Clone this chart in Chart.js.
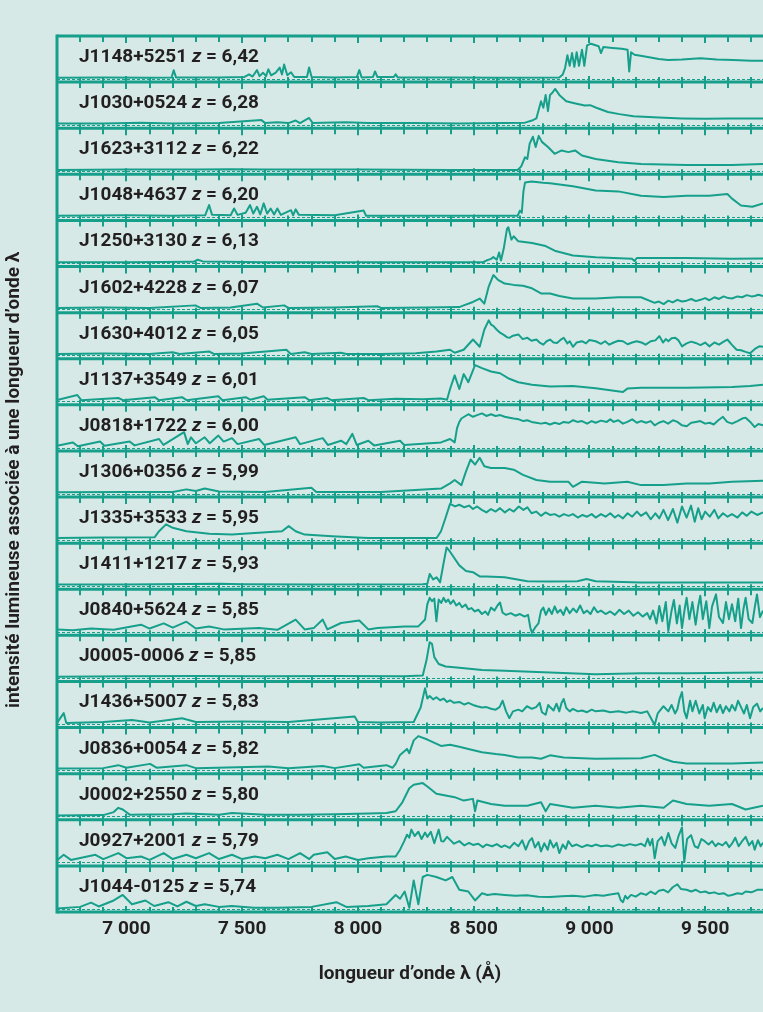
<!DOCTYPE html>
<html>
<head>
<meta charset="utf-8">
<script src="https://cdn.jsdelivr.net/npm/chart.js@4/dist/chart.umd.min.js"></script>
<style>
    html, body { margin: 0; padding: 0; background: #d6e9e7; }
    canvas { display: block; }
</style>
</head>
<body>
<canvas id="spectraChart" width="763" height="1012"></canvas>
<script>
// quasars, top to bottom
const quasars = ['J1148+5251', 'J1030+0524', 'J1623+3112', 'J1048+4637', 'J1250+3130', 'J1602+4228', 'J1630+4012',
    'J1137+3549', 'J0818+1722', 'J1306+0356', 'J1335+3533', 'J1411+1217', 'J0840+5624', 'J0005-0006',
    'J1436+5007', 'J0836+0054', 'J0002+2550', 'J0927+2001', 'J1044-0125']
const redshifts = ['6,42', '6,28', '6,22', '6,20', '6,13', '6,07', '6,05', '6,01', '6,00', '5,99', '5,95', '5,93',
    '5,85', '5,85', '5,83', '5,82', '5,80', '5,79', '5,74']

// [longueur d'onde (Å), flux relatif]
const fluxJ1148 = [[6700,.02],[6900,.03],[7100,.02],[7195,.03],[7204,.2],[7214,.03],[7400,.03],[7510,.04],[7530,.1],[7545,.05],[7564,.2],[7575,.06],[7590,.14],[7603,.06],[7613,.22],[7625,.08],[7645,.14],[7662,.26],[7672,.1],[7681,.33],[7695,.08],[7711,.15],[7725,.04],[7780,.04],[7789,.26],[7800,.04],[7900,.03],[7995,.04],[8006,.2],[8016,.03],[8065,.04],[8074,.17],[8084,.04],[8155,.04],[8163,.1],[8172,.03],[8400,.03],[8600,.02],[8870,.03],[8885,.1],[8895,.25],[8905,.55],[8915,.3],[8925,.6],[8935,.28],[8945,.62],[8955,.3],[8968,.68],[8978,.3],[8990,.78],[9007,.82],[9040,.76],[9050,.6],[9060,.74],[9100,.72],[9140,.7],[9165,.68],[9172,.17],[9180,.62],[9195,.56],[9240,.52],[9300,.46],[9340,.44],[9400,.45],[9480,.48],[9550,.45],[9620,.44],[9700,.42],[9750,.42]]
const fluxJ1030 = [[6700,.03],[6900,.03],[7063,.05],[7200,.03],[7400,.04],[7583,.11],[7600,.04],[7652,.06],[7700,.04],[7731,.1],[7750,.04],[7789,.16],[7805,.04],[7848,.05],[7947,.06],[8045,.04],[8241,.04],[8438,.03],[8634,.04],[8722,.05],[8752,.1],[8771,.15],[8781,.35],[8791,.55],[8801,.4],[8811,.7],[8821,.32],[8830,.7],[8840,.75],[8852,.84],[8870,.7],[8900,.55],[8940,.5],[8980,.45],[9003,.46],[9030,.4],[9080,.3],[9130,.25],[9190,.2],[9300,.17],[9400,.15],[9500,.14],[9600,.15],[9750,.15]]
const fluxJ1623 = [[6700,.02],[7000,.03],[7300,.03],[7450,.04],[7600,.03],[8000,.03],[8400,.02],[8690,.02],[8705,.1],[8722,.32],[8732,.28],[8742,.64],[8756,.8],[8768,.56],[8781,.82],[8795,.68],[8821,.56],[8850,.4],[8880,.48],[8909,.44],[8938,.48],[8968,.36],[9027,.28],[9125,.2],[9223,.16],[9420,.14],[9616,.14],[9750,.16]]
const fluxJ1048 = [[6700,.03],[7000,.04],[7200,.03],[7340,.04],[7357,.28],[7370,.05],[7450,.04],[7465,.2],[7480,.05],[7515,.1],[7534,.28],[7548,.08],[7564,.24],[7578,.06],[7593,.32],[7608,.08],[7623,.2],[7638,.06],[7652,.2],[7667,.05],[7711,.16],[7720,.04],[7731,.18],[7745,.05],[7900,.04],[8025,.15],[8035,.03],[8300,.03],[8690,.03],[8700,.15],[8708,.1],[8715,.6],[8722,.81],[8750,.83],[8800,.8],[8830,.79],[8929,.72],[9027,.62],[9125,.6],[9223,.5],[9321,.47],[9420,.5],[9518,.5],[9596,.54],[9616,.43],[9655,.27],[9704,.24],[9750,.32]]
const fluxJ1250 = [[6700,.02],[7000,.02],[7290,.03],[7308,.08],[7330,.04],[7600,.02],[8000,.02],[8300,.02],[8540,.02],[8555,.06],[8575,.1],[8585,.14],[8600,.08],[8610,.25],[8618,.06],[8630,.34],[8644,.8],[8650,.84],[8663,.55],[8673,.63],[8693,.51],[8752,.47],[8811,.4],[8850,.29],[8929,.18],[9027,.14],[9184,.1],[9195,.05],[9205,.12],[9420,.12],[9616,.1],[9750,.11]]
const fluxJ1602 = [[6700,.03],[6900,.04],[7100,.03],[7298,.09],[7320,.03],[7450,.04],[7564,.13],[7590,.04],[7681,.09],[7700,.03],[7900,.04],[8084,.07],[8100,.03],[8300,.04],[8438,.05],[8457,.09],[8497,.17],[8526,.25],[8546,.13],[8565,.53],[8585,.8],[8605,.69],[8634,.6],[8673,.57],[8713,.55],[8752,.49],[8791,.37],[8830,.37],[8870,.31],[8929,.25],[9027,.25],[9125,.28],[9223,.28],[9282,.15],[9300,.18],[9321,.12],[9340,.2],[9360,.16],[9380,.22],[9400,.18],[9420,.2],[9440,.24],[9460,.19],[9480,.22],[9500,.26],[9518,.21],[9540,.28],[9560,.24],[9580,.3],[9600,.26],[9616,.25],[9640,.3],[9660,.28],[9680,.33],[9700,.3],[9714,.31],[9730,.34],[9750,.31]]
const fluxJ1630 = [[6700,.03],[6900,.04],[7100,.03],[7200,.07],[7230,.03],[7357,.09],[7380,.03],[7500,.04],[7691,.13],[7710,.03],[7770,.07],[7800,.03],[7927,.06],[7950,.03],[8100,.03],[8250,.05],[8339,.09],[8398,.13],[8418,.06],[8457,.13],[8497,.37],[8526,.2],[8546,.6],[8565,.82],[8575,.72],[8585,.69],[8600,.6],[8614,.53],[8630,.48],[8645,.42],[8654,.41],[8670,.46],[8693,.49],[8712,.38],[8732,.41],[8750,.34],[8771,.37],[8785,.3],[8801,.25],[8815,.33],[8830,.37],[8845,.3],[8860,.29],[8875,.36],[8889,.41],[8905,.28],[8915,.33],[8929,.2],[8945,.3],[8968,.33],[8985,.28],[9000,.36],[9027,.33],[9050,.27],[9068,.33],[9086,.25],[9105,.3],[9125,.34],[9145,.33],[9165,.26],[9185,.3],[9204,.33],[9225,.3],[9243,.25],[9265,.33],[9285,.35],[9302,.45],[9318,.3],[9330,.38],[9341,.33],[9355,.4],[9371,.41],[9385,.35],[9400,.21],[9420,.28],[9440,.32],[9459,.29],[9480,.24],[9500,.3],[9518,.21],[9540,.3],[9560,.25],[9580,.32],[9596,.37],[9615,.25],[9636,.13],[9655,.12],[9675,.08],[9694,.05],[9715,.15],[9734,.21],[9750,.2]]
const fluxJ1137 = [[6700,.03],[6788,.15],[6805,.03],[6965,.08],[6985,.03],[7122,.1],[7140,.03],[7240,.1],[7260,.03],[7397,.12],[7415,.03],[7515,.1],[7535,.04],[7593,.12],[7610,.04],[7770,.1],[7790,.03],[7868,.08],[7885,.03],[8025,.08],[8045,.03],[8163,.06],[8280,.05],[8359,.07],[8385,.04],[8398,.29],[8418,.61],[8438,.29],[8457,.64],[8477,.45],[8506,.85],[8536,.78],[8575,.7],[8614,.66],[8654,.53],[8693,.45],[8752,.39],[8830,.35],[8929,.36],[9027,.31],[9145,.22],[9164,.3],[9223,.32],[9420,.32],[9616,.34],[9694,.36],[9750,.39]]
const fluxJ0818 = [[6700,.04],[6768,.12],[6790,.03],[6886,.14],[6905,.04],[7014,.14],[7035,.05],[7141,.2],[7160,.06],[7249,.36],[7265,.08],[7279,.24],[7300,.1],[7338,.24],[7360,.1],[7397,.28],[7420,.14],[7456,.22],[7480,.08],[7573,.2],[7595,.06],[7731,.24],[7750,.08],[7848,.22],[7870,.06],[7927,.16],[7950,.08],[7976,.32],[7995,.06],[8045,.16],[8070,.05],[8182,.16],[8200,.06],[8359,.12],[8398,.2],[8418,.12],[8428,.45],[8438,.6],[8447,.68],[8477,.78],[8497,.72],[8515,.76],[8536,.8],[8555,.74],[8575,.78],[8595,.74],[8615,.76],[8634,.72],[8655,.7],[8673,.68],[8695,.66],[8715,.62],[8732,.64],[8750,.6],[8770,.58],[8791,.56],[8810,.58],[8830,.54],[8850,.58],[8870,.55],[8889,.6],[8910,.58],[8930,.64],[8948,.6],[8968,.62],[8990,.56],[9010,.62],[9027,.58],[9050,.63],[9075,.6],[9090,.66],[9105,.6],[9125,.64],[9145,.56],[9164,.6],[9185,.66],[9205,.58],[9223,.62],[9245,.58],[9265,.62],[9282,.52],[9300,.58],[9320,.62],[9340,.56],[9361,.64],[9380,.6],[9400,.52],[9420,.5],[9440,.58],[9460,.6],[9479,.62],[9500,.56],[9520,.58],[9537,.54],[9557,.64],[9577,.72],[9595,.6],[9616,.56],[9640,.62],[9660,.68],[9675,.7],[9695,.6],[9714,.48],[9730,.55],[9750,.52]]
const fluxJ1306 = [[6700,.03],[7000,.04],[7200,.04],[7259,.1],[7300,.06],[7338,.12],[7400,.05],[7600,.04],[7799,.14],[7820,.04],[8100,.04],[8359,.12],[8398,.24],[8418,.32],[8447,.2],[8467,.52],[8487,.8],[8506,.68],[8526,.84],[8546,.64],[8575,.6],[8634,.6],[8673,.56],[8713,.44],[8771,.32],[8830,.28],[8909,.28],[8929,.16],[8968,.28],[9066,.24],[9164,.28],[9223,.2],[9321,.2],[9420,.24],[9518,.24],[9616,.28],[9750,.3]]
const fluxJ1335 = [[6700,.04],[6900,.05],[7122,.06],[7141,.2],[7171,.36],[7200,.28],[7259,.2],[7357,.14],[7456,.12],[7554,.16],[7672,.2],[7701,.32],[7731,.2],[7770,.12],[7888,.08],[8045,.04],[8340,.04],[8359,.2],[8379,.52],[8398,.84],[8420,.78],[8438,.82],[8460,.76],[8480,.8],[8497,.72],[8515,.78],[8535,.7],[8555,.64],[8575,.72],[8595,.66],[8614,.74],[8635,.64],[8655,.72],[8673,.66],[8695,.78],[8715,.7],[8732,.76],[8750,.62],[8770,.66],[8791,.56],[8810,.64],[8830,.58],[8850,.6],[8870,.54],[8890,.6],[8910,.56],[8929,.6],[8950,.52],[8970,.58],[8990,.54],[9010,.6],[9027,.52],[9050,.6],[9070,.54],[9090,.62],[9110,.52],[9125,.58],[9145,.5],[9165,.62],[9185,.54],[9205,.66],[9223,.56],[9245,.64],[9265,.48],[9285,.62],[9302,.5],[9320,.7],[9340,.46],[9361,.72],[9380,.4],[9400,.78],[9420,.52],[9439,.8],[9455,.42],[9470,.74],[9485,.48],[9500,.66],[9520,.54],[9540,.7],[9557,.5],[9577,.62],[9597,.54],[9616,.6],[9640,.52],[9660,.64],[9680,.56],[9700,.66],[9725,.58],[9750,.64]]
const fluxJ1411 = [[6700,.03],[7000,.03],[7400,.05],[7500,.04],[7800,.03],[8280,.04],[8300,.05],[8310,.28],[8325,.15],[8340,.2],[8355,.08],[8369,.5],[8383,.9],[8398,.8],[8438,.48],[8467,.35],[8497,.32],[8526,.22],[8555,.22],[8634,.2],[8732,.11],[8830,.1],[8948,.11],[8988,.16],[9027,.11],[9223,.08],[9420,.08],[9750,.08]]
const fluxJ0840 = [[6700,.06],[6768,.04],[6847,.08],[6945,.05],[7063,.17],[7100,.08],[7161,.2],[7200,.1],[7259,.24],[7300,.08],[7357,.13],[7420,.06],[7573,.09],[7652,.05],[7731,.29],[7770,.06],[7809,.09],[7848,.29],[7868,.06],[7927,.21],[8006,.27],[8045,.06],[8084,.09],[8202,.13],[8261,.13],[8290,.29],[8300,.65],[8310,.8],[8320,.72],[8330,.78],[8339,.25],[8349,.76],[8360,.68],[8370,.8],[8380,.7],[8390,.76],[8400,.66],[8412,.74],[8425,.62],[8438,.68],[8450,.58],[8465,.64],[8477,.53],[8490,.56],[8505,.48],[8520,.52],[8536,.42],[8550,.48],[8562,.4],[8575,.57],[8590,.5],[8603,.62],[8614,.69],[8625,.45],[8640,.4],[8660,.44],[8680,.38],[8700,.42],[8720,.36],[8735,.4],[8745,.1],[8752,-.02],[8765,.1],[8780,.2],[8791,.5],[8801,.57],[8812,.4],[8825,.55],[8838,.42],[8850,.6],[8862,.45],[8875,.52],[8888,.4],[8900,.58],[8915,.44],[8930,.55],[8945,.46],[8960,.62],[8975,.44],[8990,.5],[9005,.42],[9020,.58],[9035,.46],[9050,.5],[9070,.42],[9090,.48],[9110,.4],[9130,.52],[9150,.42],[9170,.5],[9190,.38],[9210,.46],[9230,.36],[9250,.44],[9262,.3],[9275,.5],[9290,.2],[9302,.61],[9315,.25],[9330,.7],[9341,.02],[9355,.5],[9365,.75],[9378,.2],[9390,.62],[9400,.09],[9412,.55],[9420,.8],[9432,.3],[9445,.7],[9459,.17],[9470,.6],[9479,.85],[9490,.3],[9505,.72],[9518,.09],[9530,.6],[9547,.88],[9560,.35],[9577,.21],[9590,.7],[9603,.3],[9616,.65],[9630,.25],[9643,.78],[9655,.09],[9666,.55],[9675,.8],[9688,.3],[9704,.21],[9715,.6],[9724,.88],[9737,.35],[9750,.5]]
const fluxJ0005 = [[6700,.03],[7000,.04],[7300,.05],[7600,.04],[7900,.05],[8200,.04],[8280,.06],[8296,.41],[8310,.84],[8320,.8],[8330,.49],[8349,.33],[8379,.27],[8438,.24],[8536,.19],[8634,.17],[8830,.13],[9027,.09],[9223,.11],[9420,.11],[9750,.13]]
const fluxJ1436 = [[6700,.03],[6729,.26],[6740,.03],[6900,.05],[7024,.1],[7100,.04],[7240,.14],[7300,.05],[7500,.06],[7700,.05],[7986,.18],[8000,.05],[8100,.04],[8241,.05],[8271,.39],[8290,.84],[8300,.6],[8310,.66],[8325,.58],[8339,.63],[8355,.56],[8370,.6],[8385,.52],[8398,.56],[8415,.5],[8438,.52],[8460,.46],[8477,.5],[8497,.45],[8515,.42],[8536,.39],[8555,.4],[8575,.36],[8595,.34],[8612,.4],[8625,.55],[8640,.3],[8654,.14],[8670,.3],[8693,.34],[8710,.3],[8730,.42],[8752,.36],[8770,.4],[8785,.5],[8795,.28],[8811,.22],[8822,.45],[8830,.4],[8845,.32],[8858,.48],[8870,.3],[8880,.5],[8889,.59],[8900,.38],[8915,.3],[8929,.36],[8950,.3],[8968,.32],[8990,.28],[9010,.34],[9027,.3],[9060,.32],[9090,.28],[9125,.3],[9160,.27],[9190,.3],[9223,.26],[9250,.3],[9265,.15],[9282,-.02],[9295,.25],[9302,.3],[9320,.42],[9341,.3],[9355,.45],[9370,.25],[9380,.35],[9390,.6],[9400,.75],[9410,.3],[9420,.14],[9435,.55],[9445,.3],[9459,.55],[9475,.25],[9490,.45],[9498,.14],[9512,.4],[9525,.3],[9537,.5],[9550,.28],[9565,.45],[9577,.26],[9590,.42],[9605,.3],[9616,.45],[9630,.32],[9642,.55],[9655,.4],[9668,.25],[9680,.45],[9694,.14],[9708,.4],[9724,.48],[9738,.3],[9750,.38]]
const fluxJ0836 = [[6700,.04],[6900,.05],[6965,.12],[7000,.06],[7102,.15],[7130,.06],[7259,.12],[7300,.05],[7613,.09],[7700,.05],[7848,.1],[7900,.05],[8006,.14],[8025,.06],[8123,.12],[8150,.06],[8163,.15],[8182,.36],[8212,.5],[8222,.4],[8241,.7],[8261,.8],[8300,.72],[8359,.57],[8398,.6],[8438,.55],[8477,.5],[8536,.42],[8595,.38],[8634,.36],[8693,.3],[8752,.3],[8791,.27],[8830,.35],[8889,.3],[9027,.27],[9223,.28],[9282,.36],[9321,.27],[9361,.2],[9420,.16],[9616,.16],[9750,.18]]
const fluxJ0002 = [[6700,.02],[6900,.03],[6945,.1],[6965,.2],[6984,.16],[7014,.04],[7200,.05],[7259,.07],[7400,.04],[7456,.08],[7600,.04],[7750,.04],[7900,.05],[8045,.07],[8123,.08],[8163,.12],[8192,.33],[8222,.66],[8241,.74],[8280,.78],[8300,.7],[8339,.53],[8379,.49],[8418,.45],[8457,.37],[8497,.41],[8506,.12],[8516,.37],[8575,.29],[8634,.25],[8732,.25],[8791,.33],[8811,.12],[8830,.29],[8929,.2],[9027,.25],[9125,.2],[9223,.25],[9321,.2],[9361,.37],[9420,.29],[9518,.25],[9616,.29],[9675,.16],[9750,.25]]
const fluxJ0927 = [[6700,.05],[6729,.18],[6760,.06],[6866,.18],[6900,.08],[6965,.22],[7000,.1],[7063,.14],[7100,.06],[7161,.22],[7200,.08],[7259,.18],[7300,.1],[7357,.22],[7400,.08],[7456,.18],[7500,.08],[7554,.14],[7600,.1],[7652,.18],[7700,.08],[7750,.22],[7790,.08],[7809,.18],[7868,.24],[7900,.08],[7947,.14],[8000,.06],[8045,.1],[8123,.14],[8163,.14],[8182,.3],[8200,.5],[8212,.65],[8222,.58],[8231,.77],[8245,.62],[8261,.72],[8275,.55],[8290,.7],[8300,.6],[8315,.72],[8330,.45],[8349,.77],[8360,.5],[8369,.49],[8385,.6],[8398,.53],[8415,.44],[8438,.5],[8460,.4],[8480,.46],[8497,.41],[8520,.44],[8540,.36],[8555,.42],[8580,.38],[8600,.43],[8620,.36],[8634,.4],[8655,.34],[8675,.46],[8693,.38],[8710,.52],[8725,.3],[8740,.5],[8752,.57],[8765,.35],[8780,.48],[8791,.26],[8805,.45],[8820,.3],[8830,.52],[8845,.35],[8858,.46],[8870,.22],[8885,.42],[8898,.32],[8909,.5],[8925,.38],[8945,.42],[8968,.36],[8990,.41],[9010,.38],[9027,.42],[9050,.38],[9075,.4],[9100,.37],[9125,.42],[9150,.39],[9175,.43],[9200,.4],[9223,.44],[9240,.38],[9252,.56],[9262,.4],[9272,.55],[9282,.1],[9295,.5],[9312,.6],[9325,.4],[9341,.69],[9355,.45],[9371,.34],[9385,.62],[9400,.82],[9410,.02],[9422,.55],[9439,.64],[9455,.38],[9469,.34],[9484,.55],[9498,.5],[9515,.42],[9530,.5],[9545,.38],[9557,.45],[9575,.4],[9590,.48],[9604,.36],[9616,.44],[9630,.58],[9645,.38],[9660,.5],[9675,.6],[9690,.4],[9704,.5],[9714,.3],[9728,.52],[9740,.38],[9750,.46]]
const fluxJ1044 = [[6700,0],[6800,.04],[6847,.14],[6880,.05],[6945,.19],[6984,.32],[7024,.1],[7082,.19],[7120,.06],[7181,.15],[7220,.05],[7259,.16],[7300,.06],[7338,.1],[7400,.04],[7456,.06],[7550,.02],[7652,.02],[7800,.04],[7907,.15],[7950,.04],[8045,.06],[8123,.1],[8163,.32],[8182,.23],[8202,.4],[8222,.02],[8241,.66],[8261,.1],[8280,.74],[8300,.79],[8339,.74],[8379,.66],[8408,.74],[8438,.44],[8477,.4],[8506,.19],[8536,.36],[8560,.32],[8590,.34],[8634,.32],[8680,.3],[8730,.31],[8780,.28],[8830,.27],[8880,.29],[8930,.3],[8980,.28],[9027,.32],[9060,.3],[9090,.33],[9125,.36],[9135,.2],[9145,.15],[9155,.3],[9164,.23],[9180,.32],[9200,.28],[9223,.36],[9245,.32],[9265,.4],[9285,.34],[9300,.42],[9321,.44],[9340,.38],[9360,.5],[9380,.57],[9395,.46],[9420,.44],[9440,.4],[9460,.44],[9480,.38],[9500,.4],[9518,.36],[9540,.38],[9560,.34],[9580,.36],[9600,.3],[9616,.32],[9640,.36],[9660,.34],[9675,.4],[9700,.38],[9725,.44],[9750,.44]]

const spectra = [fluxJ1148, fluxJ1030, fluxJ1623, fluxJ1048, fluxJ1250, fluxJ1602, fluxJ1630, fluxJ1137, fluxJ0818,
    fluxJ1306, fluxJ1335, fluxJ1411, fluxJ0840, fluxJ0005, fluxJ1436, fluxJ0836, fluxJ0002, fluxJ0927, fluxJ1044]

// axe des longueurs d'onde
const xTicks = [7000, 7500, 8000, 8500, 9000, 9500]
const xTickLabels = ['7 000', '7 500', '8 000', '8 500', '9 000', '9 500']
const minorTickStep = 100

const teal = '#16a08b'
const ink = '#231f20'
const fontFamily = 'Roboto, "Noto Sans", sans-serif'

// cadres, graduations, niveaux zéro et étiquettes de chaque spectre
const panelDecor = {
    id: 'panelDecor',
    beforeDatasetsDraw(chart) {
        const { ctx, chartArea } = chart
        ctx.save()
        ctx.strokeStyle = teal
        ctx.lineWidth = 1
        ctx.setLineDash([3, 2])
        quasars.forEach((q, i) => {
            const y = Math.round(chart.scales['y' + i].getPixelForValue(0)) + 0.5
            ctx.beginPath()
            ctx.moveTo(chartArea.left, y)
            ctx.lineTo(chartArea.right, y)
            ctx.stroke()
        })
        ctx.restore()
    },
    afterDatasetsDraw(chart) {
        const { ctx, chartArea } = chart
        const xScale = chart.scales.x
        const edges = [chart.scales.y0.top].concat(quasars.map((q, i) => chart.scales['y' + i].bottom))

        ctx.save()
        ctx.strokeStyle = teal
        ctx.lineWidth = 3
        edges.forEach(y => {
            ctx.beginPath()
            ctx.moveTo(chartArea.left, y)
            ctx.lineTo(chartArea.right, y)
            ctx.stroke()
        })

        ctx.lineWidth = 2
        ctx.beginPath()
        for (let v = xScale.min + minorTickStep; v < xScale.max; v += minorTickStep) {
            const px = Math.round(xScale.getPixelForValue(v))
            const len = v % 500 === 0 ? 5 : 4
            edges.forEach((y, k) => {
                const up = k > 0 ? len + 1 : 0
                const down = k < edges.length - 1 ? len + 2 : 0
                ctx.moveTo(px, y - up)
                ctx.lineTo(px, y + down)
            })
        }
        ctx.stroke()

        ctx.lineWidth = 3
        ctx.beginPath()
        ctx.moveTo(chartArea.left, chartArea.top - 1.5)
        ctx.lineTo(chartArea.left, chartArea.bottom + 1.5)
        ctx.stroke()

        ctx.fillStyle = ink
        ctx.textBaseline = 'alphabetic'
        quasars.forEach((q, i) => {
            const s = chart.scales['y' + i]
            let x = chartArea.left + 22
            const y = s.top + 26
            ctx.font = 'bold 19px ' + fontFamily
            ctx.fillText(q + ' ', x, y)
            x += ctx.measureText(q + ' ').width
            ctx.font = 'italic bold 19px ' + fontFamily
            ctx.fillText('z', x, y)
            x += ctx.measureText('z').width
            ctx.font = 'bold 19px ' + fontFamily
            ctx.fillText(' = ' + redshifts[i], x, y)
        })

        ctx.translate(14, (chartArea.top + chartArea.bottom) / 2 + 6)
        ctx.rotate(-Math.PI / 2)
        ctx.textAlign = 'center'
        ctx.textBaseline = 'middle'
        ctx.font = 'bold 19px ' + fontFamily
        ctx.fillText('intensité lumineuse associée à une longueur d’onde λ', 0, 0)
        ctx.restore()
    }
}

const scales = {
    x: {
        type: 'linear',
        position: 'bottom',
        min: 6700,
        max: 9750,
        grid: { display: false, drawTicks: false },
        border: { display: false },
        afterBuildTicks: scale => { scale.ticks = xTicks.map(v => ({ value: v })) },
        afterFit: scale => { scale.height = 100 },
        ticks: {
            autoSkip: false,
            maxRotation: 0,
            padding: 6,
            color: ink,
            font: { family: fontFamily, weight: 'bold', size: 19 },
            callback: v => xTickLabels[xTicks.indexOf(v)]
        },
        title: {
            display: true,
            text: 'longueur d’onde λ (Å)',
            color: ink,
            font: { family: fontFamily, weight: 'bold', size: 19 },
            padding: { top: 0, bottom: 26 }
        }
    }
}
quasars.forEach((q, i) => {
    scales['y' + i] = {
        type: 'linear',
        position: 'left',
        stack: 'spectres',
        stackWeight: 1,
        weight: quasars.length - i,
        min: -0.08,
        max: 1.0,
        display: false
    }
})

new Chart(document.getElementById('spectraChart'), {
    type: 'line',
    data: {
        datasets: spectra.map((s, i) => ({
            label: quasars[i],
            data: s.map(p => ({ x: p[0], y: p[1] })),
            yAxisID: 'y' + i,
            borderColor: teal,
            borderWidth: 2,
            borderJoinStyle: 'round',
            pointRadius: 0,
            tension: 0,
            fill: false
        }))
    },
    options: {
        responsive: false,
        animation: false,
        layout: { padding: { left: 57, top: 36, right: 0, bottom: 0 } },
        plugins: { legend: { display: false }, tooltip: { enabled: false } },
        scales: scales
    },
    plugins: [panelDecor]
})
</script>
</body>
</html>
